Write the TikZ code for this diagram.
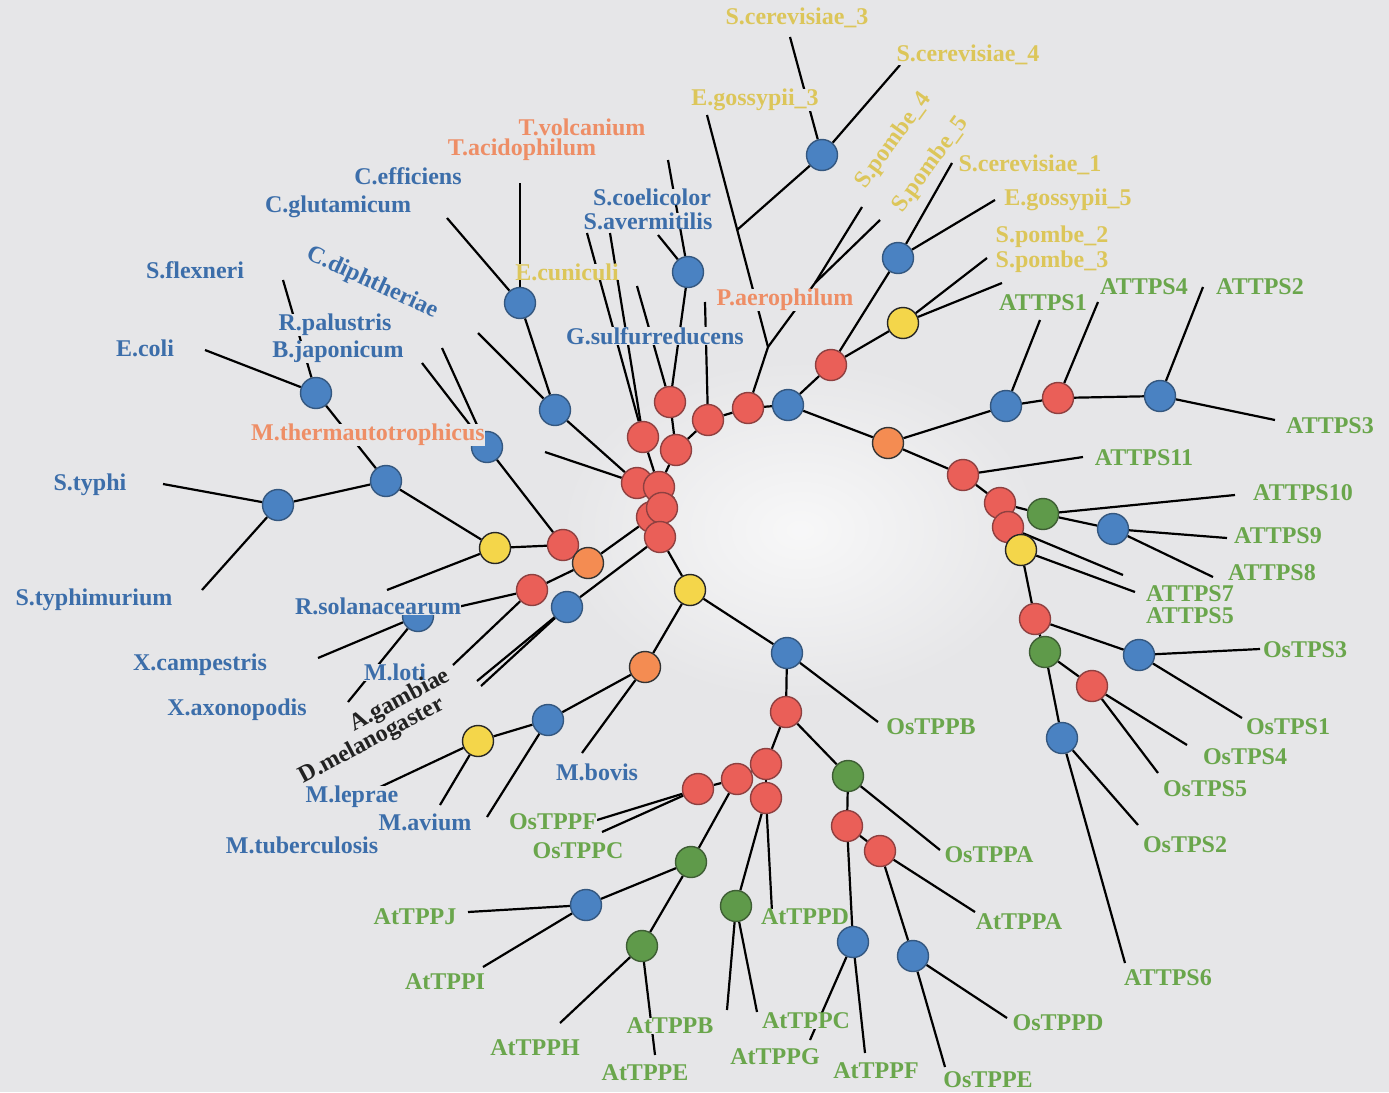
\documentclass[tikz,border=0pt]{standalone}
\usepackage{fontspec}
\setmainfont{Liberation Serif}
\pgfdeclarelayer{back}
\pgfdeclarelayer{edges}
\pgfsetlayers{back,edges,main}
\definecolor{bgc}{HTML}{E6E6E8}
\definecolor{cblue}{HTML}{4A82C2}
\definecolor{cblued}{HTML}{34577F}
\definecolor{cred}{HTML}{EA5F58}
\definecolor{credd}{HTML}{8E4040}
\definecolor{corange}{HTML}{F48C52}
\definecolor{cyellow}{HTML}{F4D64A}
\definecolor{cgreen}{HTML}{5F9A4A}
\definecolor{cgreend}{HTML}{3E5E34}
\definecolor{tblue}{HTML}{3C6EAA}
\definecolor{torange}{HTML}{EE8E66}
\definecolor{tyellow}{HTML}{DCC65A}
\definecolor{tgreen}{HTML}{6AA64C}
\definecolor{tblack}{HTML}{222222}
\tikzset{
  nd/.style={circle, minimum size=31pt, inner sep=0pt, line width=1.4pt},
  nb/.style={nd, fill=cblue, draw=cblued},
  nr/.style={nd, fill=cred, draw=credd},
  no/.style={nd, fill=corange, draw=black!80},
  ny/.style={nd, fill=cyellow, draw=black!85},
  ng/.style={nd, fill=cgreen, draw=cgreend},
  edge/.style={line width=2.2pt, black},
  lab/.style={font=\fontsize{24}{26}\selectfont\bfseries, fill=bgc, inner sep=0pt},
  tb/.style={lab, text=tblue},
  to/.style={lab, text=torange},
  ty/.style={lab, text=tyellow},
  tg/.style={lab, text=tgreen},
  tk/.style={lab, fill=none, text=tblack}
}
\begin{document}
\begin{tikzpicture}[x=1pt,y=-1pt]
\begin{pgfonlayer}{back}
\fill[bgc] (0,0) rectangle (1389,1092);
\shade[inner color=white!70!bgc, outer color=bgc] (800,530) ellipse [x radius=240, y radius=170];
\end{pgfonlayer}
\useasboundingbox (0,0) rectangle (1389,1092);
% ---------- circles ----------
\node[nb] (B1) at (822,155) {};
\node[nb] (B2) at (688,272) {};
\node[nb] (B3) at (898,258) {};
\node[nb] (B4) at (788,405) {};
\node[nb] (B5) at (555,410) {};
\node[nb] (B6) at (487,447) {};
\node[nb] (B7) at (386,481) {};
\node[nb] (B8) at (567,607) {};
\node[nb] (B9) at (787,653) {};
\node[nb] (B10) at (548,720) {};
\node[nb] (B11) at (316,393) {};
\node[nb] (B12) at (278,505) {};
\node[nb] (B13) at (520,303) {};
\node[nb] (B14) at (418,616) {};
\node[nb] (B15) at (586,905) {};
\node[nb] (B16) at (853,942) {};
\node[nb] (B17) at (913,956) {};
\node[nb] (B18) at (1006,406) {};
\node[nb] (B19) at (1160,396) {};
\node[nb] (B20) at (1113,529) {};
\node[nb] (B21) at (1139,655) {};
\node[nb] (B22) at (1062,738) {};
\node[nr] (R1) at (831,365) {};
\node[nr] (R2) at (748,408) {};
\node[nr] (R3) at (708,420) {};
\node[nr] (R4) at (670,402) {};
\node[nr] (R5) at (676,450) {};
\node[nr] (R6) at (643,437) {};
\node[nr] (R7) at (637,483) {};
\node[nr] (R10) at (652,517) {};
\node[nr] (R8) at (659,487) {};
\node[nr] (R9) at (662,508) {};
\node[nr] (R11) at (660,537) {};
\node[nr] (R12) at (563,545) {};
\node[nr] (R13) at (532,590) {};
\node[nr] (R14) at (786,712) {};
\node[nr] (R15) at (766,764) {};
\node[nr] (R16) at (737,779) {};
\node[nr] (R17) at (698,789) {};
\node[nr] (R18) at (766,798) {};
\node[nr] (R19) at (847,826) {};
\node[nr] (R20) at (880,851) {};
\node[nr] (R21) at (1058,398) {};
\node[nr] (R22) at (963,475) {};
\node[nr] (R23) at (1000,503) {};
\node[nr] (R24) at (1008,527) {};
\node[nr] (R25) at (1035,619) {};
\node[nr] (R26) at (1092,686) {};
\node[no] (O1) at (588,563) {};
\node[no] (O2) at (888,443) {};
\node[no] (O3) at (645,667) {};
\node[ny] (Y1) at (903,323) {};
\node[ny] (Y2) at (495,548) {};
\node[ny] (Y3) at (690,590) {};
\node[ny] (Y4) at (478,741) {};
\node[ny] (Y5) at (1021,550) {};
\node[ng] (G1) at (848,776) {};
\node[ng] (G2) at (691,862) {};
\node[ng] (G3) at (736,906) {};
\node[ng] (G4) at (642,946) {};
\node[ng] (G5) at (1043,514) {};
\node[ng] (G6) at (1045,652) {};
% ---------- junctions and leaf ends ----------
\coordinate (e3) at (707,115);
\coordinate (J2) at (768,347);
\coordinate (J1) at (737,230);
\coordinate (J3) at (815,283);
\coordinate (s3) at (790,37);
\coordinate (s4) at (900,65);
\coordinate (sp4) at (862,207);
\coordinate (sp5) at (880,220);
\coordinate (sc1) at (952,163);
\coordinate (eg5) at (995,200);
\coordinate (sp2) at (987,258);
\coordinate (sp3) at (1002,283);
\coordinate (lc) at (668,160);
\coordinate (la) at (658,235);
\coordinate (l4) at (637,286);
\coordinate (l3) at (705,302);
\coordinate (l6a) at (587,233);
\coordinate (l6b) at (610,233);
\coordinate (lta) at (520,183);
\coordinate (lce) at (447,218);
\coordinate (lcd) at (478,333);
\coordinate (l6c) at (422,363);
\coordinate (l6d) at (442,348);
\coordinate (l7) at (545,452);
\coordinate (lec) at (205,350);
\coordinate (lsf) at (283,280);
\coordinate (lst) at (163,484);
\coordinate (lsm) at (202,590);
\coordinate (ly2) at (387,590);
\coordinate (lxc) at (318,658);
\coordinate (lxa) at (348,702);
\coordinate (l13) at (453,665);
\coordinate (lag) at (477,681);
\coordinate (ldm) at (481,686);
\coordinate (lmb) at (582,753);
\coordinate (lmt) at (487,817);
\coordinate (lml) at (378,788);
\coordinate (lma) at (440,805);
\coordinate (lob) at (878,722);
\coordinate (lof) at (597,820);
\coordinate (loc) at (602,832);
\coordinate (laj) at (468,912);
\coordinate (lai) at (483,967);
\coordinate (lah) at (560,1023);
\coordinate (lae) at (655,1055);
\coordinate (lad) at (772,912);
\coordinate (lab) at (727,1010);
\coordinate (lag2) at (757,1012);
\coordinate (loa) at (940,850);
\coordinate (laa) at (975,912);
\coordinate (lacg) at (810,1040);
\coordinate (laf) at (865,1053);
\coordinate (lope) at (945,1067);
\coordinate (lopd) at (1007,1018);
\coordinate (lt1) at (1040,320);
\coordinate (lt4) at (1098,302);
\coordinate (lt2) at (1203,287);
\coordinate (lt3) at (1275,420);
\coordinate (lt11) at (1083,457);
\coordinate (lt10) at (1235,495);
\coordinate (lt9) at (1227,538);
\coordinate (lt8) at (1213,577);
\coordinate (lt7) at (1123,575);
\coordinate (lt5) at (1135,592);
\coordinate (lo3) at (1260,649);
\coordinate (lo1) at (1242,718);
\coordinate (lo4) at (1187,745);
\coordinate (lo5) at (1158,773);
\coordinate (lo2) at (1138,825);
\coordinate (lt6) at (1125,963);
% ---------- connectors ----------
\begin{pgfonlayer}{edges}
\draw[edge] (e3) -- (J2) -- (R2);
\draw[edge] (J2) -- (J3);
\draw[edge] (J3) -- (sp4);
\draw[edge] (J3) -- (sp5);
\draw[edge] (B1) -- (J1);
\draw[edge] (B1) -- (s3);
\draw[edge] (B1) -- (s4);
\draw[edge] (R2) -- (R3);
\draw[edge] (R2) -- (B4);
\draw[edge] (B4) -- (R1);
\draw[edge] (B4) -- (O2);
\draw[edge] (R1) -- (B3);
\draw[edge] (R1) -- (Y1);
\draw[edge] (B3) -- (sc1);
\draw[edge] (B3) -- (eg5);
\draw[edge] (Y1) -- (sp2);
\draw[edge] (Y1) -- (sp3);
\draw[edge] (R3) -- (R5);
\draw[edge] (R3) -- (l3);
\draw[edge] (R4) -- (R5);
\draw[edge] (R4) -- (B2);
\draw[edge] (R4) -- (l4);
\draw[edge] (B2) -- (lc);
\draw[edge] (B2) -- (la);
\draw[edge] (R5) -- (R8);
\draw[edge] (R6) -- (R8);
\draw[edge] (R6) -- (l6a);
\draw[edge] (R6) -- (l6b);
\draw[edge] (R7) -- (R8);
\draw[edge] (R8) -- (R9);
\draw[edge] (R9) -- (R10);
\draw[edge] (R10) -- (R11);
\draw[edge] (R7) -- (B5);
\draw[edge] (R7) -- (l7);
\draw[edge] (B5) -- (B13);
\draw[edge] (B5) -- (lcd);
\draw[edge] (B13) -- (lta);
\draw[edge] (B13) -- (lce);
\draw[edge] (R10) -- (O1);
\draw[edge] (O1) -- (R12);
\draw[edge] (O1) -- (R13);
\draw[edge] (R12) -- (B6);
\draw[edge] (R12) -- (Y2);
\draw[edge] (B6) -- (l6c);
\draw[edge] (B6) -- (l6d);
\draw[edge] (Y2) -- (B7);
\draw[edge] (Y2) -- (ly2);
\draw[edge] (B7) -- (B11);
\draw[edge] (B7) -- (B12);
\draw[edge] (B11) -- (lec);
\draw[edge] (B11) -- (lsf);
\draw[edge] (B12) -- (lst);
\draw[edge] (B12) -- (lsm);
\draw[edge] (R13) -- (B14);
\draw[edge] (R13) -- (l13);
\draw[edge] (B14) -- (lxc);
\draw[edge] (B14) -- (lxa);
\draw[edge] (R11) -- (B8);
\draw[edge] (B8) -- (lag);
\draw[edge] (B8) -- (ldm);
\draw[edge] (R11) -- (Y3);
\draw[edge] (Y3) -- (O3);
\draw[edge] (Y3) -- (B9);
\draw[edge] (O3) -- (B10);
\draw[edge] (O3) -- (lmb);
\draw[edge] (B10) -- (Y4);
\draw[edge] (B10) -- (lmt);
\draw[edge] (Y4) -- (lml);
\draw[edge] (Y4) -- (lma);
\draw[edge] (B9) -- (R14);
\draw[edge] (B9) -- (lob);
\draw[edge] (R14) -- (R15);
\draw[edge] (R14) -- (G1);
\draw[edge] (R15) -- (R16);
\draw[edge] (R15) -- (R18);
\draw[edge] (R16) -- (R17);
\draw[edge] (R16) -- (G2);
\draw[edge] (R17) -- (lof);
\draw[edge] (R17) -- (loc);
\draw[edge] (G2) -- (B15);
\draw[edge] (G2) -- (G4);
\draw[edge] (B15) -- (laj);
\draw[edge] (B15) -- (lai);
\draw[edge] (G4) -- (lah);
\draw[edge] (G4) -- (lae);
\draw[edge] (R18) -- (G3);
\draw[edge] (R18) -- (lad);
\draw[edge] (G3) -- (lab);
\draw[edge] (G3) -- (lag2);
\draw[edge] (G1) -- (R19);
\draw[edge] (G1) -- (loa);
\draw[edge] (R19) -- (R20);
\draw[edge] (R19) -- (B16);
\draw[edge] (R20) -- (laa);
\draw[edge] (R20) -- (B17);
\draw[edge] (B16) -- (lacg);
\draw[edge] (B16) -- (laf);
\draw[edge] (B17) -- (lope);
\draw[edge] (B17) -- (lopd);
\draw[edge] (O2) -- (B18);
\draw[edge] (O2) -- (R22);
\draw[edge] (B18) -- (R21);
\draw[edge] (B18) -- (lt1);
\draw[edge] (R21) -- (B19);
\draw[edge] (R21) -- (lt4);
\draw[edge] (B19) -- (lt2);
\draw[edge] (B19) -- (lt3);
\draw[edge] (R22) -- (lt11);
\draw[edge] (R22) -- (R23);
\draw[edge] (R23) -- (G5);
\draw[edge] (R23) -- (R24);
\draw[edge] (G5) -- (lt10);
\draw[edge] (G5) -- (B20);
\draw[edge] (B20) -- (lt9);
\draw[edge] (B20) -- (lt8);
\draw[edge] (R24) -- (lt7);
\draw[edge] (R24) -- (Y5);
\draw[edge] (Y5) -- (lt5);
\draw[edge] (Y5) -- (R25);
\draw[edge] (R25) -- (B21);
\draw[edge] (R25) -- (G6);
\draw[edge] (B21) -- (lo3);
\draw[edge] (B21) -- (lo1);
\draw[edge] (G6) -- (R26);
\draw[edge] (G6) -- (B22);
\draw[edge] (R26) -- (lo4);
\draw[edge] (R26) -- (lo5);
\draw[edge] (B22) -- (lo2);
\draw[edge] (B22) -- (lt6);
\end{pgfonlayer}
% ---------- labels ----------
\node[ty] (t1) at (797,18) {S.cerevisiae\_3};
\node[ty] (t2) at (968,55) {S.cerevisiae\_4};
\node[ty] (t3) at (755,100) {E.gossypii\_3};
\node[ty, rotate=54] (t4) at (894,141) {S.pombe\_4};
\node[ty, rotate=54] (t5) at (931,165) {S.pombe\_5};
\node[ty] (t6) at (1030,165) {S.cerevisiae\_1};
\node[ty] (t7) at (1068,200) {E.gossypii\_5};
\node[ty] (t8) at (1052,237) {S.pombe\_2};
\node[ty] (t9) at (1052,262) {S.pombe\_3};
\node[ty] (t10) at (567,272) {E.cuniculi};
\node[to] (t11) at (582,127) {T.volcanium};
\node[to] (t12) at (522,150) {T.acidophilum};
\node[to] (t13) at (785,300) {P.aerophilum};
\node[to] (t14) at (368,435) {M.thermautotrophicus};
\node[tb] (t15) at (408,176) {C.efficiens};
\node[tb] (t16) at (338,207) {C.glutamicum};
\node[tb] (t17) at (652,197) {S.coelicolor};
\node[tb] (t18) at (648,221) {S.avermitilis};
\node[tb] (t19) at (195,270) {S.flexneri};
\node[tb, rotate=-25] (t20) at (372,283) {C.diphtheriae};
\node[tb] (t21) at (335,325) {R.palustris};
\node[tb] (t22) at (338,352) {B.japonicum};
\node[tb] (t23) at (145,348) {E.coli};
\node[tb] (t24) at (655,336) {G.sulfurreducens};
\node[tb] (t25) at (90,485) {S.typhi};
\node[tb] (t26) at (94,600) {S.typhimurium};
\node[tb] (t27) at (378,606) {R.solanacearum};
\node[tb] (t28) at (200,665) {X.campestris};
\node[tb] (t29) at (395,672) {M.loti};
\node[tb] (t30) at (237,710) {X.axonopodis};
\node[tb] (t31) at (597,772) {M.bovis};
\node[tb] (t32) at (352,797) {M.leprae};
\node[tb] (t33) at (425,822) {M.avium};
\node[tb] (t34) at (302,845) {M.tuberculosis};
\node[tk, rotate=28] (t35) at (400,701) {A.gambiae};
\node[tk, rotate=28] (t36) at (372,741) {D.melanogaster};
\node[tg] (t37) at (553,822) {OsTPPF};
\node[tg] (t38) at (578,851) {OsTPPC};
\node[tg] (t39) at (931,727) {OsTPPB};
\node[tg] (t40) at (415,917) {AtTPPJ};
\node[tg] (t41) at (445,982) {AtTPPI};
\node[tg] (t42) at (805,917) {AtTPPD};
\node[tg] (t43) at (1019,922) {AtTPPA};
\node[tg] (t44) at (989,855) {OsTPPA};
\node[tg] (t45) at (670,1026) {AtTPPB};
\node[tg] (t46) at (806,1021) {AtTPPC};
\node[tg] (t47) at (535,1048) {AtTPPH};
\node[tg] (t48) at (775,1057) {AtTPPG};
\node[tg] (t49) at (645,1073) {AtTPPE};
\node[tg] (t50) at (876,1071) {AtTPPF};
\node[tg] (t51) at (988,1080) {OsTPPE};
\node[tg] (t52) at (1058,1023) {OsTPPD};
\node[tg] (t53) at (1043,303) {ATTPS1};
\node[tg] (t54) at (1144,287) {ATTPS4};
\node[tg] (t55) at (1260,287) {ATTPS2};
\node[tg] (t56) at (1330,426) {ATTPS3};
\node[tg] (t57) at (1144,458) {ATTPS11};
\node[tg] (t58) at (1303,493) {ATTPS10};
\node[tg] (t59) at (1278,536) {ATTPS9};
\node[tg] (t60) at (1272,573) {ATTPS8};
\node[tg] (t61) at (1190,594) {ATTPS7};
\node[tg] (t62) at (1190,616) {ATTPS5};
\node[tg] (t63) at (1305,650) {OsTPS3};
\node[tg] (t64) at (1288,727) {OsTPS1};
\node[tg] (t65) at (1245,757) {OsTPS4};
\node[tg] (t66) at (1205,789) {OsTPS5};
\node[tg] (t67) at (1185,845) {OsTPS2};
\node[tg] (t68) at (1168,978) {ATTPS6};
\end{tikzpicture}
\end{document}
